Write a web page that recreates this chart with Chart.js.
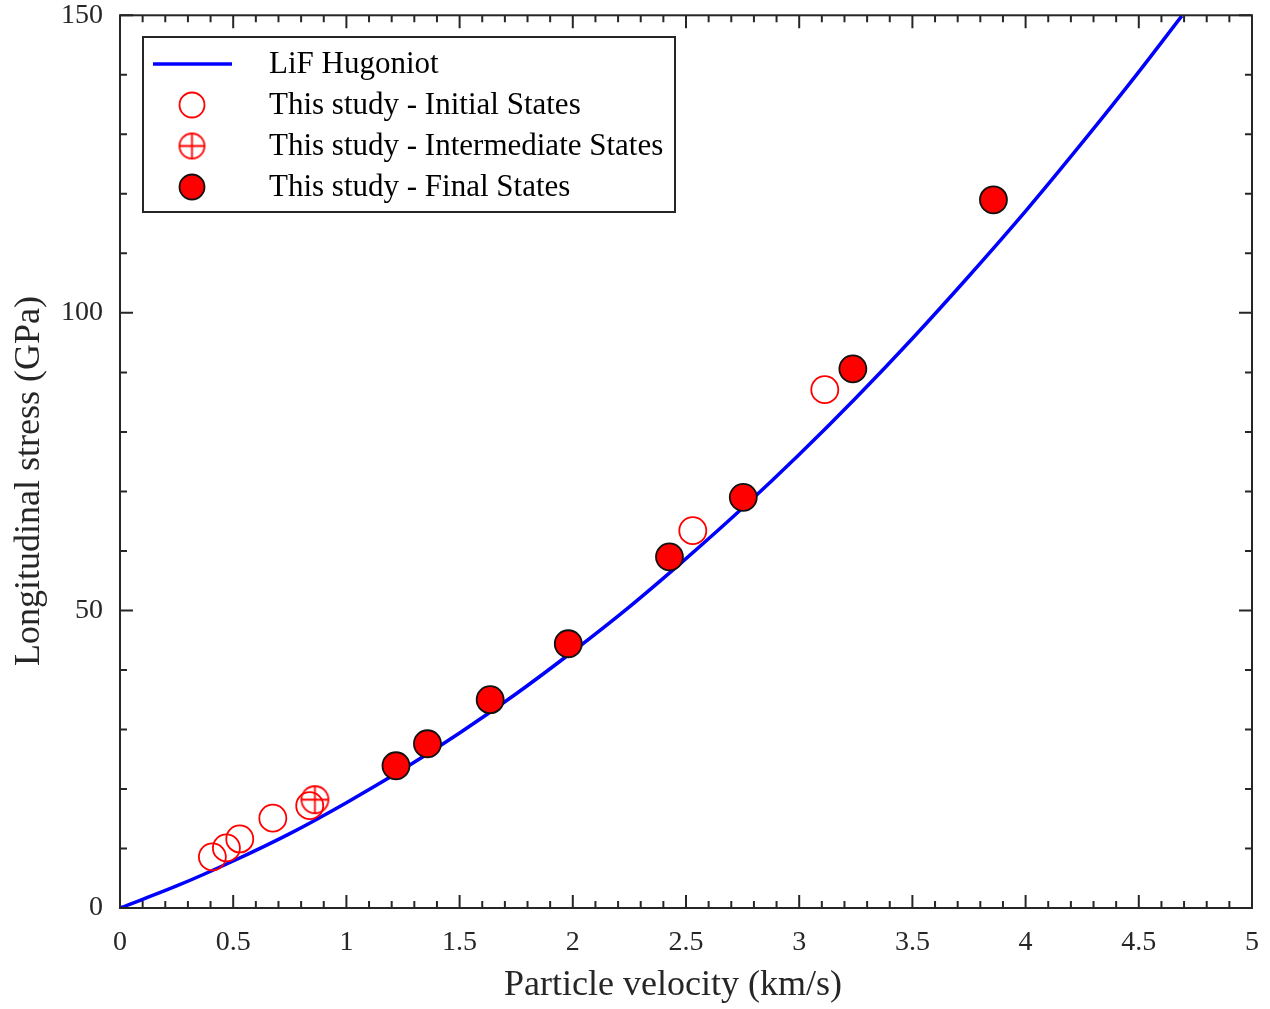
<!DOCTYPE html>
<html>
<head>
<meta charset="utf-8">
<script src="https://cdn.jsdelivr.net/npm/chart.js@4"></script>
<style>
html, body { margin: 0; padding: 0; background: #fff; }
</style>
</head>
<body>
<canvas id="myChart" width="1270" height="1009"></canvas>
<script>
// LiF Hugoniot curve
const hugoniotU = [0, 0.25, 0.5, 0.75, 1.0, 1.25, 1.5, 1.75, 2.0, 2.25, 2.5, 2.75, 3.0, 3.25, 3.5, 3.75, 4.0, 4.25, 4.5, 4.69];
const hugoniotS = [0, 3.7, 7.9, 12.5, 17.7, 23.3, 29.4, 36.0, 43.1, 50.6, 58.7, 67.2, 76.2, 85.7, 95.7, 106.2, 117.1, 128.6, 140.5, 149.9];

// This study - Initial States
const initU = [0.408, 0.470, 0.529, 0.675, 0.838, 2.530, 3.113];
const initS = [8.6, 10.1, 11.6, 15.1, 17.2, 63.4, 87.1];

// This study - Intermediate States
const interU = [0.861];
const interS = [18.2];

// This study - Final States
const finalU = [1.219, 1.358, 1.635, 1.980, 2.427, 2.753, 3.237, 3.858];
const finalS = [23.9, 27.6, 35.0, 44.4, 59.0, 69.0, 90.6, 119.0];

const xTicks = [0, 0.5, 1, 1.5, 2, 2.5, 3, 3.5, 4, 4.5, 5];
const yTicks = [0, 50, 100, 150];

const legendLabels = ['LiF Hugoniot', 'This study - Initial States', 'This study - Intermediate States', 'This study - Final States'];

const serif = '"Liberation Serif", "DejaVu Serif", serif';
const ink = '#262626';

const toPts = (xs, ys) => xs.map((v, i) => ({x: v, y: ys[i]}));

// circle with a cross inside, used for the intermediate states
function crossCircle(r) {
    const c = document.createElement('canvas');
    const size = Math.ceil(2 * r + 4);
    c.width = size; c.height = size;
    const g = c.getContext('2d');
    const m = size / 2;
    g.strokeStyle = '#ff0000';
    g.lineWidth = 1.8;
    g.beginPath(); g.arc(m, m, r, 0, Math.PI * 2); g.stroke();
    g.beginPath();
    g.moveTo(m - r, m); g.lineTo(m + r, m);
    g.moveTo(m, m - r); g.lineTo(m, m + r);
    g.stroke();
    return c;
}
const crossImg = crossCircle(13.5);
const crossImgSmall = crossCircle(12.5);

function drawMarker(ctx, kind, x, y) {
    ctx.save();
    if (kind === 1) {
        ctx.strokeStyle = '#ff0000'; ctx.lineWidth = 1.8;
        ctx.beginPath(); ctx.arc(x, y, 12.5, 0, Math.PI * 2); ctx.stroke();
    } else if (kind === 2) {
        ctx.drawImage(crossImgSmall, x - crossImgSmall.width / 2, y - crossImgSmall.height / 2);
    } else if (kind === 3) {
        ctx.fillStyle = '#ff0000'; ctx.strokeStyle = '#111'; ctx.lineWidth = 1.8;
        ctx.beginPath(); ctx.arc(x, y, 12.5, 0, Math.PI * 2); ctx.fill(); ctx.stroke();
    } else {
        ctx.strokeStyle = '#0000ff'; ctx.lineWidth = 3.5;
        ctx.beginPath(); ctx.moveTo(153, y); ctx.lineTo(232, y); ctx.stroke();
    }
    ctx.restore();
}

// frame, inward ticks, titles and legend box
const frameAndLegend = {
    id: 'frameAndLegend',
    afterDatasetsDraw(chart) {
        const {ctx, chartArea: a, scales: {x, y}} = chart;
        ctx.save();
        ctx.strokeStyle = ink;
        ctx.lineWidth = 2;
        ctx.beginPath();
        for (let i = 0; i <= 50; i++) {
            const px = x.getPixelForValue(i / 10);
            const len = i % 5 === 0 ? 13 : 7;
            ctx.moveTo(px, a.bottom); ctx.lineTo(px, a.bottom - len);
            ctx.moveTo(px, a.top); ctx.lineTo(px, a.top + len);
        }
        for (let i = 0; i <= 15; i++) {
            const py = y.getPixelForValue(i * 10);
            const len = i % 5 === 0 ? 13 : 7;
            ctx.moveTo(a.left, py); ctx.lineTo(a.left + len, py);
            ctx.moveTo(a.right, py); ctx.lineTo(a.right - len, py);
        }
        ctx.stroke();
        ctx.strokeRect(a.left, a.top, a.right - a.left, a.bottom - a.top);

        // axis titles
        ctx.fillStyle = ink;
        ctx.font = '36px ' + serif;
        ctx.textAlign = 'center';
        ctx.textBaseline = 'middle';
        ctx.fillText('Particle velocity (km/s)', 673, 986);
        ctx.save();
        ctx.translate(30, 481);
        ctx.rotate(-Math.PI / 2);
        ctx.fillText('Longitudinal stress (GPa)', 0, 0);
        ctx.restore();

        // legend
        ctx.fillStyle = '#fff';
        ctx.fillRect(143, 37, 532, 175);
        ctx.strokeStyle = ink;
        ctx.lineWidth = 2;
        ctx.strokeRect(143, 37, 532, 175);
        const rows = [64, 105, 146, 187];
        ctx.font = '31px ' + serif;
        ctx.textAlign = 'left';
        rows.forEach((ry, k) => {
            drawMarker(ctx, k, 192, ry);
            ctx.fillStyle = '#000';
            ctx.fillText(legendLabels[k], 269, ry + 1);
        });
        ctx.restore();
    }
};

const ctx = document.getElementById('myChart').getContext('2d');
const chart = new Chart(ctx, {
    type: 'scatter',
    data: {
        datasets: [
            {
                type: 'line',
                label: legendLabels[0],
                data: toPts(hugoniotU, hugoniotS),
                borderColor: '#0000ff',
                borderWidth: 3.5,
                pointRadius: 0,
                cubicInterpolationMode: 'monotone',
                order: 4
            },
            {
                label: legendLabels[1],
                data: toPts(initU, initS),
                pointStyle: 'circle',
                pointRadius: 13.5,
                borderWidth: 1.8,
                borderColor: '#ff0000',
                backgroundColor: 'rgba(0,0,0,0)',
                order: 3
            },
            {
                label: legendLabels[2],
                data: toPts(interU, interS),
                pointStyle: crossImg,
                order: 2
            },
            {
                label: legendLabels[3],
                data: toPts(finalU, finalS),
                pointStyle: 'circle',
                pointRadius: 13.5,
                borderWidth: 1.8,
                borderColor: '#111',
                backgroundColor: '#ff0000',
                order: 1
            }
        ]
    },
    options: {
        responsive: false,
        animation: false,
        events: [],
        layout: { padding: { top: 15, right: 18, left: 0, bottom: 0 } },
        plugins: {
            legend: { display: false },
            tooltip: { enabled: false }
        },
        scales: {
            x: {
                type: 'linear',
                min: 0, max: 5,
                afterBuildTicks: s => { s.ticks = xTicks.map(v => ({value: v})); },
                afterFit: s => { s.height = 101; s.paddingLeft = 0; s.paddingRight = 0; },
                grid: { display: false, drawTicks: false },
                border: { display: false },
                ticks: {
                    color: ink,
                    font: { family: serif, size: 28 },
                    padding: 18,
                    maxRotation: 0,
                    callback: v => String(v)
                }
            },
            y: {
                type: 'linear',
                min: 0, max: 150,
                afterBuildTicks: s => { s.ticks = yTicks.map(v => ({value: v})); },
                afterFit: s => { s.width = 120; s.paddingTop = 0; s.paddingBottom = 0; },
                grid: { display: false, drawTicks: false },
                border: { display: false },
                ticks: {
                    color: ink,
                    font: { family: serif, size: 28 },
                    padding: 17,
                    callback: v => String(v)
                }
            }
        }
    },
    plugins: [frameAndLegend]
});
</script>
</body>
</html>
